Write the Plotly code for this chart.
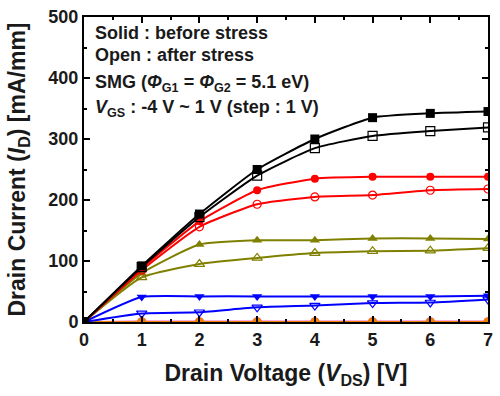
import plotly.graph_objects as go

# Drain voltage sweep points [V]
vds = [0, 1, 2, 3, 4, 5, 6, 7]

# Drain current [mA/mm], before stress (solid) and after stress (open)
id_1v_before = [0, 92, 177, 250, 300, 335, 342, 345]
id_1v_after = [0, 90, 172, 240, 285, 305, 313, 319]
id_0v_before = [0, 88, 165, 216, 235, 238, 238, 238]
id_0v_after = [0, 85, 156, 193, 205, 208, 216, 218]
id_m1v_before = [0, 80, 127, 134, 134, 137, 137, 136]
id_m1v_after = [0, 73, 95, 105, 113, 116, 117, 121]
id_m2v_before = [0, 41, 42, 42, 42, 42, 42, 43]
id_m2v_after = [0, 14, 16, 24, 27, 31, 32, 37]
id_m3v_before = [0, 0.5, 0.5, 0.5, 0.5, 0.5, 0.5, 0.5]
id_m3v_after = [0, 0.3, 0.3, 0.3, 0.3, 0.3, 0.3, 0.3]
id_m4v_before = [0, 0, 0, 0, 0, 0, 0, 0]
id_m4v_after = [0, 0, 0, 0, 0, 0, 0, 0]

series = [
    (id_m3v_before, id_m3v_after, "#ff40c0", "circle"),
    (id_m4v_before, id_m4v_after, "#f08000", "circle"),
    (id_m2v_before, id_m2v_after, "#0000ff", "triangle-down"),
    (id_m1v_before, id_m1v_after, "#808000", "triangle-up"),
    (id_0v_before, id_0v_after, "#ff0000", "circle"),
    (id_1v_before, id_1v_after, "#000000", "square"),
]

fig = go.Figure()
for before, after, color, symbol in series:
    size = 9 if symbol != "circle" else 8
    fig.add_trace(go.Scatter(
        x=vds, y=after, mode="lines+markers",
        line=dict(color=color, width=2, shape="spline", smoothing=0.5),
        marker=dict(symbol=symbol + "-open", size=size, color=color,
                    line=dict(color=color, width=1.2)),
        showlegend=False))
    fig.add_trace(go.Scatter(
        x=vds, y=before, mode="lines+markers",
        line=dict(color=color, width=2, shape="spline", smoothing=0.5),
        marker=dict(symbol=symbol, size=size, color=color),
        showlegend=False))

font_family = "Liberation Sans, Arial, sans-serif"
ink = "#1a1a1a"

info_lines = [
    ("<b>Solid : before stress</b>", 0.948),
    ("<b>Open : after stress</b>", 0.874),
    ("<b>SMG (<i>Φ</i><sub>G1</sub> = <i>Φ</i><sub>G2</sub> = 5.1 eV)</b>", 0.782),
    ("<b><i>V</i><sub>GS</sub> : -4 V ~ 1 V (step : 1 V)</b>", 0.700),
]
for text, yy in info_lines:
    fig.add_annotation(
        text=text, xref="paper", yref="paper", x=0.022, y=yy,
        xanchor="left", yanchor="middle", showarrow=False,
        font=dict(family=font_family, size=18, color=ink))

axis_common = dict(
    showline=True, linecolor="black", linewidth=2, mirror="ticks",
    ticks="inside", ticklen=6, tickwidth=2, tickcolor="black",
    showgrid=False, zeroline=False,
    tickfont=dict(family=font_family, size=18, color=ink, weight="bold"),
)

fig.update_xaxes(
    range=[0, 7], dtick=1, tick0=0,
    minor=dict(ticks="inside", ticklen=3, tickwidth=2, dtick=0.5, tickcolor="black"),
    title=dict(text="<b>Drain Voltage (<i>V</i><sub>DS</sub>) [V]</b>",
               font=dict(family=font_family, size=23, color=ink), standoff=16),
    **axis_common)
fig.update_yaxes(
    range=[0, 500], dtick=100, tick0=0,
    minor=dict(ticks="inside", ticklen=3, tickwidth=2, dtick=50, tickcolor="black"),
    title=dict(text="<b>Drain Current (<i>I</i><sub>D</sub>) [mA/mm]</b>",
               font=dict(family=font_family, size=23, color=ink), standoff=16),
    **axis_common)

fig.update_layout(
    width=500, height=396,
    margin=dict(l=84, r=7, t=12, b=74),
    paper_bgcolor="white", plot_bgcolor="white",
)

fig.write_html("out.html")
